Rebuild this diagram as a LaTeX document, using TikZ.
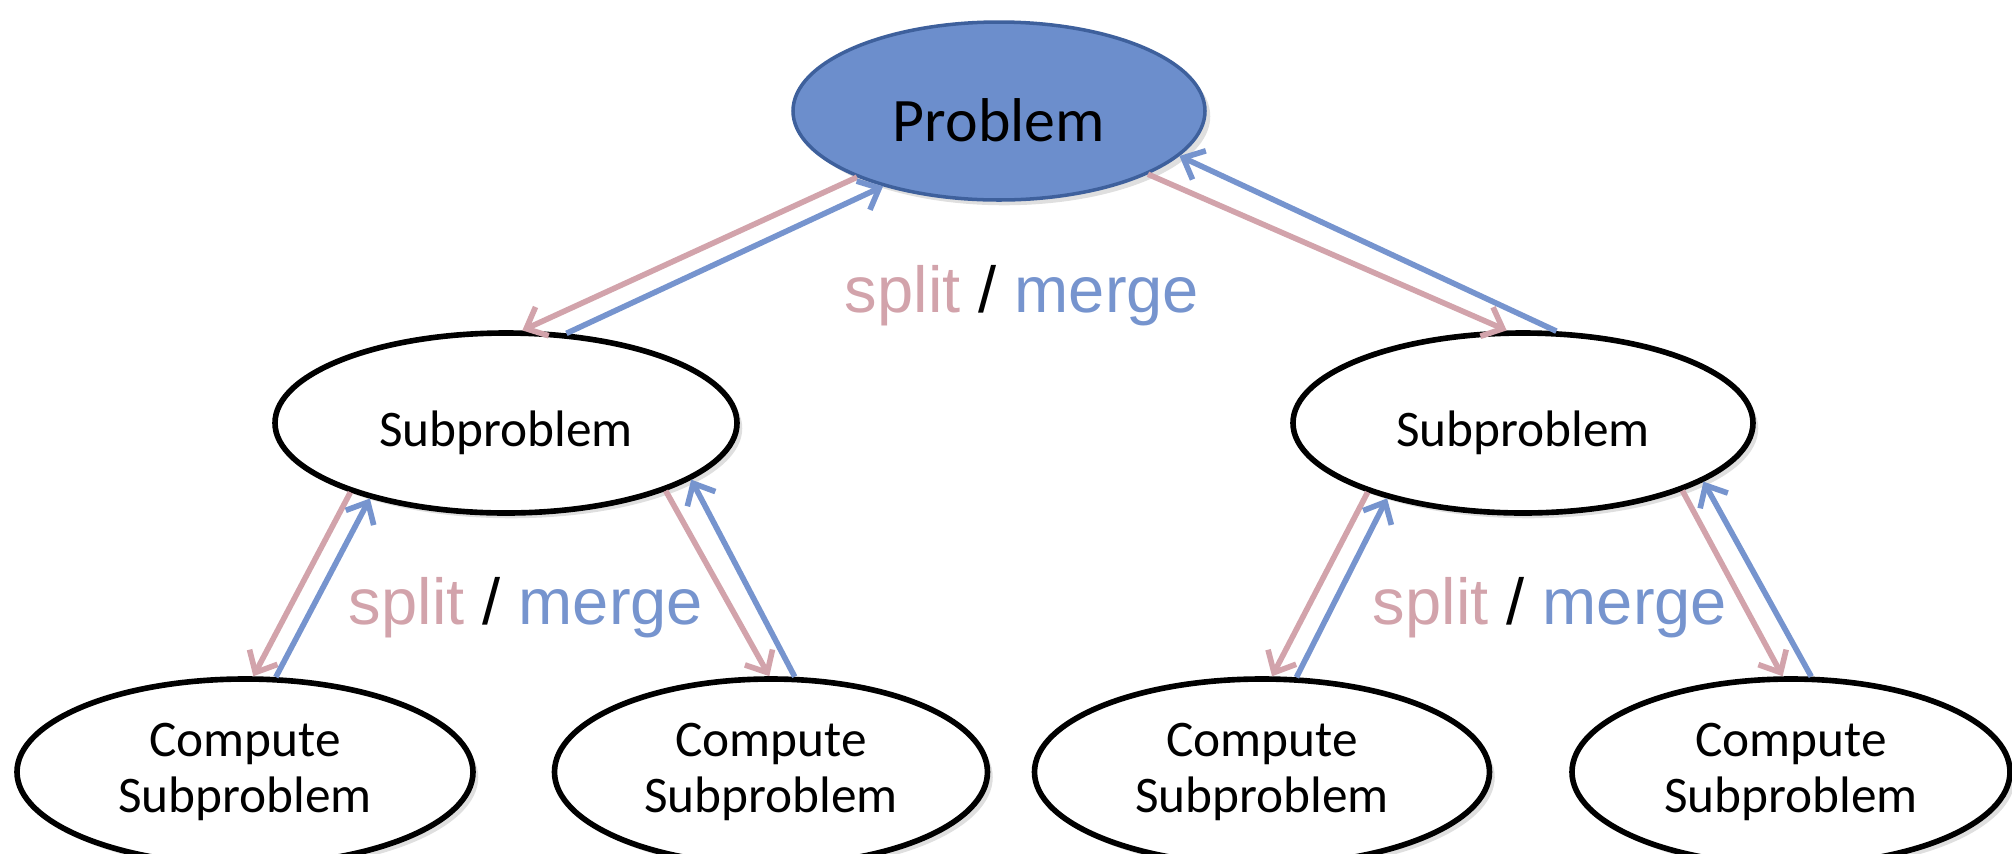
\documentclass[tikz,border=0pt]{standalone}
\usepackage{fontspec}
\setmainfont{Carlito}
\newfontfamily\labelfont{Liberation Sans}
\usepackage{xcolor}
\definecolor{colorSplit}{RGB}{210,163,171}
\definecolor{colorMerge}{RGB}{118,148,206}
\definecolor{colorRoot}{RGB}{108,142,204}
\definecolor{colorRootEdge}{RGB}{62,96,156}
\usetikzlibrary{arrows.meta, shapes.geometric, shadows}

\begin{document}
\begin{tikzpicture}[x=0.1mm, y=-0.1mm, >={Straight Barb[length=5pt,width=9pt]},
  box/.style={ellipse, draw=black, line width=1.6pt, fill=white, inner sep=0pt, align=center,
    font=\fontsize{14.6}{15.9}\selectfont,
    drop shadow={opacity=0.25, shadow xshift=1.5pt, shadow yshift=-1.5pt}},
  splitline/.style={->, colorSplit, line width=1.6pt},
  mergeline/.style={->, colorMerge, line width=1.6pt},
  lbl/.style={anchor=base, font=\labelfont\fontsize{18.5}{22}\selectfont}]
\useasboundingbox (0,0) rectangle (2012,853);

% tree of problems
\node[box, fill=colorRoot, draw=colorRootEdge, line width=1pt, minimum width=4.12cm, minimum height=1.78cm, text height=17.3pt, font=\fontsize{17.6}{21}\selectfont] (p0) at (999,111) {Problem};
\node[box, minimum width=4.62cm, minimum height=1.80cm, text height=15.5pt] (s1) at (506,423) {Subproblem};
\node[box, minimum width=4.60cm, minimum height=1.80cm, text height=15.5pt] (s2) at (1523,423) {Subproblem};
\node[box, minimum width=4.56cm, minimum height=1.86cm] (c11) at (245,772) {Compute\\Subproblem};
\node[box, minimum width=4.33cm, minimum height=1.86cm] (c12) at (771,772) {Compute\\Subproblem};
\node[box, minimum width=4.55cm, minimum height=1.86cm] (c21) at (1262,772) {Compute\\Subproblem};
\node[box, minimum width=4.38cm, minimum height=1.86cm] (c22) at (1791,772) {Compute\\Subproblem};

% split goes down, merge comes back up
\draw[splitline] (p0.205) -- (s1.80);
\draw[mergeline] (s1.56) -- (p0.213);
\draw[splitline] (p0.337) -- (s2.100);
\draw[mergeline] (s2.70) -- (p0.346);
\draw[splitline] (s1.204) -- (c11.85);
\draw[mergeline] (c11.72) -- (s1.209);
\draw[splitline] (s1.337) -- (c12.91);
\draw[mergeline] (c12.76) -- (s1.343);
\draw[splitline] (s2.204) -- (c21.84);
\draw[mergeline] (c21.70) -- (s2.209);
\draw[splitline] (s2.337) -- (c22.95);
\draw[mergeline] (c22.78) -- (s2.342);

\node[lbl] (m0) at (1022,312) {\textcolor{colorSplit}{split} / \textcolor{colorMerge}{merge}};
\node[lbl] (m1) at (526,624) {\textcolor{colorSplit}{split} / \textcolor{colorMerge}{merge}};
\node[lbl] (m2) at (1550,624) {\textcolor{colorSplit}{split} / \textcolor{colorMerge}{merge}};
\end{tikzpicture}
\end{document}
